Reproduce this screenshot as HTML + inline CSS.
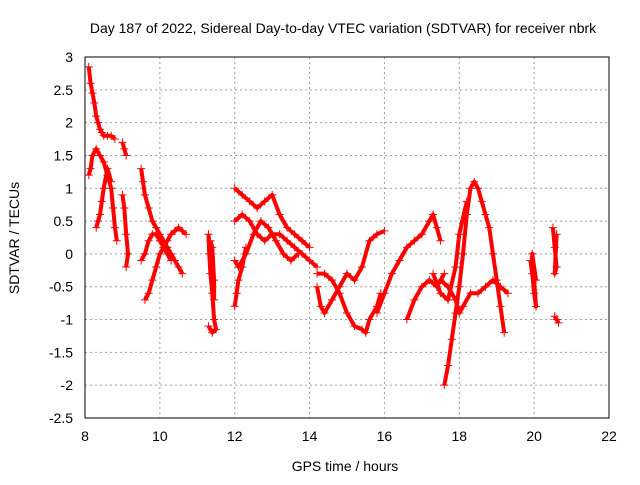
<!DOCTYPE html>
<html><head><meta charset="utf-8"><style>
body{margin:0;background:#fff}
svg text{font-family:"Liberation Sans",sans-serif;font-size:14px;fill:#000}
</style></head><body>
<svg id="chart" width="640" height="480" xmlns="http://www.w3.org/2000/svg">
<rect width="640" height="480" fill="#fff"/>
<text x="343" y="33" text-anchor="middle">Day 187 of 2022, Sidereal Day-to-day VTEC variation (SDTVAR) for receiver nbrk</text>
<text transform="translate(19,238) rotate(-90)" text-anchor="middle">SDTVAR / TECUs</text>
<text x="345" y="471" text-anchor="middle">GPS time / hours</text>
<g id="grid"></g><g id="ticks"></g><g id="marks"></g>
<rect x="85" y="57" width="524" height="361" fill="none" stroke="#000" stroke-width="1"/>
</svg>
<script>
const xTicks=[8,10,12,14,16,18,20,22];
const yTicks=[3,2.5,2,1.5,1,0.5,0,-0.5,-1,-1.5,-2,-2.5];
const track1=[[8.1,2.85],[8.15,2.6],[8.2,2.45],[8.25,2.3],[8.3,2.1],[8.35,2.0],[8.4,1.9],[8.45,1.85],[8.5,1.8],[8.6,1.8],[8.7,1.8],[8.8,1.75]];
const track2=[[8.1,1.2],[8.15,1.3],[8.2,1.5],[8.3,1.6],[8.4,1.5],[8.5,1.4],[8.6,1.2],[8.7,1.0],[8.75,0.7],[8.8,0.4],[8.85,0.2]];
const track3=[[8.3,0.4],[8.35,0.5],[8.4,0.6],[8.45,0.8],[8.5,1.0],[8.6,1.3],[8.7,1.1]];
const track4=[[9.0,1.7],[9.05,1.6],[9.1,1.5]];
const track5=[[9.0,0.9],[9.05,0.7],[9.1,0.3],[9.15,0.0],[9.1,-0.2]];
const track6=[[9.5,1.3],[9.55,1.1],[9.6,0.9],[9.7,0.7],[9.8,0.5],[9.9,0.4],[10,0.3],[10.1,0.2],[10.2,0.1],[10.3,0.0],[10.4,-0.1],[10.5,-0.2],[10.6,-0.3]];
const track7=[[9.6,-0.7],[9.7,-0.6],[9.8,-0.4],[9.9,-0.2],[10,0],[10.1,0.1],[10.2,0.2],[10.3,0.3],[10.4,0.35],[10.5,0.4],[10.6,0.35],[10.7,0.3]];
const track8=[[9.5,-0.1],[9.6,0],[9.7,0.2],[9.8,0.3],[9.9,0.3],[10,0.2],[10.1,0.1],[10.2,0],[10.3,-0.1]];
const track9=[[11.3,0.3],[11.32,0],[11.35,-0.3],[11.4,-0.6],[11.45,-1.0],[11.5,-1.15],[11.4,-1.2],[11.3,-1.1]];
const track10=[[11.35,0.2],[11.4,0.1],[11.45,-0.4],[11.45,-0.7]];
const track11=[[12,1.0],[12.2,0.9],[12.4,0.8],[12.6,0.7],[12.8,0.8],[13,0.9],[13.2,0.6],[13.4,0.4],[13.6,0.3],[13.8,0.2],[14,0.1]];
const track12=[[12,0.5],[12.2,0.6],[12.4,0.5],[12.6,0.3],[12.8,0.2],[13,0.3],[13.2,0.3],[13.4,0.2],[13.6,0.1],[13.8,0.0],[14,-0.1],[14.2,-0.2]];
const track13=[[12,-0.1],[12.1,-0.2],[12.3,0],[12.5,0.3],[12.7,0.5],[12.9,0.4],[13.1,0.2],[13.3,0.0],[13.5,-0.1],[13.7,0]];
const track14=[[12,-0.8],[12.05,-0.6],[12.1,-0.4],[12.2,-0.2],[12.3,0.1]];
const track15=[[14.2,-0.5],[14.3,-0.8],[14.4,-0.9],[14.6,-0.7],[14.8,-0.5],[15,-0.3],[15.2,-0.4],[15.4,-0.2],[15.6,0.2],[15.8,0.3],[16,0.35]];
const track16=[[14.2,-0.3],[14.4,-0.3],[14.6,-0.4],[14.8,-0.6],[15,-0.9],[15.2,-1.1],[15.4,-1.15],[15.5,-1.2],[15.6,-1.0],[15.8,-0.8],[15.9,-0.6]];
const track17=[[15.8,-0.9],[16,-0.6],[16.2,-0.3],[16.4,-0.1],[16.6,0.1],[16.8,0.2],[17,0.3],[17.2,0.5],[17.3,0.6],[17.4,0.4],[17.5,0.2]];
const track18=[[16.6,-1.0],[16.8,-0.7],[17,-0.5],[17.2,-0.4],[17.4,-0.5],[17.6,-0.3]];
const track19=[[17.6,-2.0],[17.7,-1.7],[17.8,-1.3],[17.9,-0.9],[18,-0.5],[18.1,0],[18.2,0.6],[18.3,1.0],[18.4,1.1],[18.5,1.0],[18.6,0.8],[18.7,0.6],[18.8,0.4],[18.9,0.0],[19.0,-0.4],[19.1,-0.8],[19.2,-1.2]];
const track20=[[17.5,-0.4],[17.7,-0.5],[17.9,-0.7],[18.0,-0.9],[18.1,-0.8],[18.3,-0.6],[18.5,-0.6],[18.7,-0.5],[18.9,-0.4],[19.1,-0.5],[19.3,-0.6]];
const track21=[[17.3,-0.3],[17.5,-0.6],[17.7,-0.7],[17.9,-0.2],[18,0.3],[18.2,0.8]];
const track22=[[19.9,-0.1],[19.95,-0.3],[20,-0.6],[20.05,-0.8],[19.95,0],[20.05,-0.4]];
const track23=[[20.5,0.4],[20.55,0.1],[20.6,-0.2],[20.55,-0.3],[20.6,0.3]];
const track24=[[20.55,-0.95],[20.6,-1.0],[20.65,-1.05]];
const tracks=[track1,track2,track3,track4,track5,track6,track7,track8,track9,track10,track11,track12,track13,track14,track15,track16,track17,track18,track19,track20,track21,track22,track23,track24];
const NS="http://www.w3.org/2000/svg";
function xs(t){return 85+(t-8)*(524/14);}
function ys(v){return 418-(v+2.5)*(361/5.5);}
const grid=document.getElementById('grid'),ticks=document.getElementById('ticks'),marks=document.getElementById('marks');
xTicks.forEach(t=>{const x=xs(t);
 const g=document.createElementNS(NS,'line');
 
 
 g.setAttribute('x1',x);g.setAttribute('x2',x);g.setAttribute('y1',57);g.setAttribute('y2',418);
 g.setAttribute('stroke','#a0a0a0');g.setAttribute('stroke-dasharray','2,3');grid.appendChild(g);
 const l=document.createElementNS(NS,'text');
 
 
 l.setAttribute('x',x);l.setAttribute('y',441);l.setAttribute('text-anchor','middle');l.textContent=t;ticks.appendChild(l);
});
yTicks.forEach(v=>{const y=ys(v);
 const g=document.createElementNS(NS,'line');
 
 
 g.setAttribute('x1',85);g.setAttribute('x2',609);g.setAttribute('y1',y);g.setAttribute('y2',y);
 g.setAttribute('stroke','#a0a0a0');g.setAttribute('stroke-dasharray','2,3');grid.appendChild(g);
 const l=document.createElementNS(NS,'text');
 
 
 l.setAttribute('x',73);l.setAttribute('y',y+5);l.setAttribute('text-anchor','end');l.textContent=v;ticks.appendChild(l);
});
tracks.forEach(tr=>{
 const p=document.createElementNS(NS,'polyline');
 
 
 p.setAttribute('points',tr.map(d=>xs(d[0])+','+ys(d[1])).join(' '));
 p.setAttribute('fill','none');p.setAttribute('stroke','#f00');p.setAttribute('stroke-width','4');p.setAttribute('stroke-linejoin','round');
 marks.appendChild(p);
 tr.forEach(d=>{
  const m=document.createElementNS(NS,'path');
  
  
  const x=xs(d[0]),y=ys(d[1]);
  m.setAttribute('d',`M${x-4},${y}H${x+4}M${x},${y-4}V${y+4}`);
  m.setAttribute('stroke','#f00');m.setAttribute('stroke-width','1');
  marks.appendChild(m);
 });
});
</script>
</body></html>
